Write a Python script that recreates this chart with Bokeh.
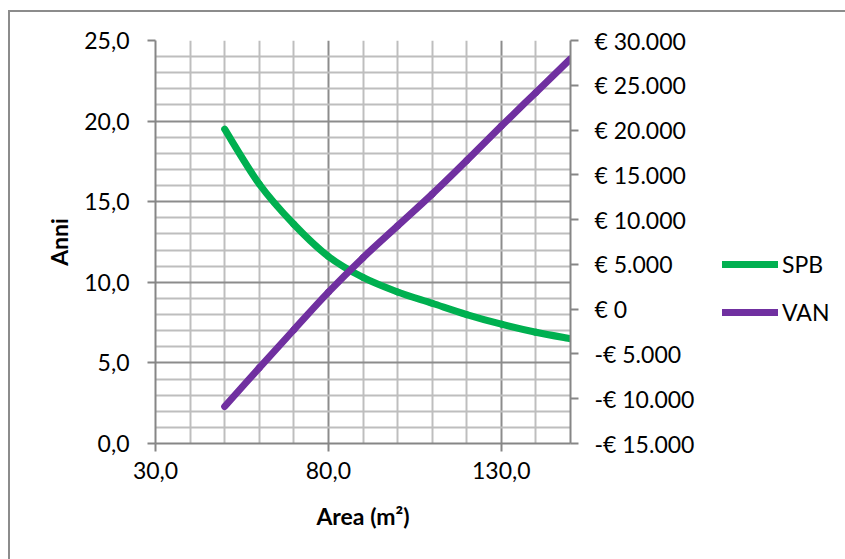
from bokeh.plotting import figure
from bokeh.layouts import row
from bokeh.models import (Range1d, LinearAxis, FixedTicker, Legend, LegendItem,
                          InlineStyleSheet)
from bokeh.embed import file_html
from bokeh.resources import INLINE

# Surface (m2) vs simple payback (years) and NPV (euro)
area = [50, 60, 70, 80, 90, 100, 110, 120, 130, 140, 150]
spb = [19.5, 16.1, 13.6, 11.6, 10.3, 9.4, 8.7, 8.0, 7.4, 6.9, 6.5]
van = [-10870, -6550, -2300, 1900, 5750, 9300, 12850, 16600, 20450, 24200, 27950]

x_ticks = [30, 80, 130]
x_minor = [40, 50, 60, 70, 90, 100, 110, 120, 140, 150]
x_labels = ["30,0", "80,0", "130,0"]

y_ticks = [0, 5, 10, 15, 20, 25]
y_minor = [1, 2, 3, 4, 6, 7, 8, 9, 11, 12, 13, 14, 16, 17, 18, 19, 21, 22, 23, 24]
y_labels = ["0,0", "5,0", "10,0", "15,0", "20,0", "25,0"]

van_ticks = [-15000, -10000, -5000, 0, 5000, 10000, 15000, 20000, 25000, 30000]
van_labels = ["-€ 15.000", "-€ 10.000", "-€ 5.000", "€ 0", "€ 5.000",
              "€ 10.000", "€ 15.000", "€ 20.000", "€ 25.000", "€ 30.000"]

series_names = ["SPB", "VAN"]

FONT = "Lato"
GREEN = "#00B050"
PURPLE = "#7030A0"
AXIS_GREY = "#868686"


def smooth(xs, ys):
    """Cubic Bezier pieces through the points (Catmull-Rom style smoothing)."""
    n = len(xs)
    seg = {k: [] for k in ("x0", "y0", "x1", "y1", "cx0", "cy0", "cx1", "cy1")}
    for i in range(n - 1):
        a = max(i - 1, 0)
        d = min(i + 2, n - 1)
        seg["x0"].append(xs[i]); seg["y0"].append(ys[i])
        seg["x1"].append(xs[i + 1]); seg["y1"].append(ys[i + 1])
        seg["cx0"].append(xs[i] + (xs[i + 1] - xs[a]) / 6)
        seg["cy0"].append(ys[i] + (ys[i + 1] - ys[a]) / 6)
        seg["cx1"].append(xs[i + 1] - (xs[d] - xs[i]) / 6)
        seg["cy1"].append(ys[i + 1] - (ys[d] - ys[i]) / 6)
    return seg


# ---- main chart -----------------------------------------------------------
p = figure(frame_width=415, frame_height=403, output_backend="svg",
           toolbar_location=None,
           x_range=Range1d(30, 150), y_range=Range1d(0, 25),
           min_border_left=155, min_border_right=130,
           min_border_top=40, min_border_bottom=116)
p.outline_line_color = None
p.background_fill_color = "white"
p.border_fill_color = "white"

p.extra_y_ranges = {"van": Range1d(-15000, 30000)}

# grids
p.xgrid.ticker = FixedTicker(ticks=x_ticks, minor_ticks=x_minor)
p.ygrid.ticker = FixedTicker(ticks=y_ticks, minor_ticks=y_minor)
for g in (p.xgrid, p.ygrid):
    g.grid_line_color = "#8C8C8C"
    g.grid_line_width = 2
    g.minor_grid_line_color = "#BEBEBE"
    g.minor_grid_line_width = 2

# bottom axis
xa = p.xaxis[0]
xa.ticker = FixedTicker(ticks=x_ticks)
xa.major_label_overrides = dict(zip(x_ticks, x_labels))
xa.axis_label = "Area (m²)"

# left axis
ya = p.yaxis[0]
ya.ticker = FixedTicker(ticks=y_ticks)
ya.major_label_overrides = dict(zip(y_ticks, y_labels))
ya.axis_label = "Anni"

# right axis (euro)
ra = LinearAxis(y_range_name="van", ticker=FixedTicker(ticks=van_ticks))
ra.major_label_overrides = dict(zip(van_ticks, van_labels))
p.add_layout(ra, "right")

for ax in (xa, ya, ra):
    ax.axis_line_color = AXIS_GREY
    ax.axis_line_width = 2
    ax.major_tick_line_color = AXIS_GREY
    ax.major_tick_line_width = 2
    ax.major_tick_out = 8
    ax.major_tick_in = 0
    ax.minor_tick_out = 0
    ax.minor_tick_in = 0
    ax.major_label_text_font = FONT
    ax.major_label_text_font_size = "23px"
    ax.major_label_text_color = "black"
    ax.axis_label_text_font = FONT
    ax.axis_label_text_font_size = "23px"
    ax.axis_label_text_font_style = "bold"
    ax.axis_label_text_color = "black"

xa.major_label_standoff = 10
xa.axis_label_standoff = 20
ya.major_label_standoff = 18
ya.axis_label_standoff = 8
ra.major_label_standoff = 16

# series
p.bezier(line_color=GREEN, line_width=7, line_cap="round", **smooth(area, spb))
p.bezier(line_color=PURPLE, line_width=7, line_cap="round",
         y_range_name="van", **smooth(area, van))

# ---- legend panel ---------------------------------------------------------
lg = figure(width=145, height=559, output_backend="svg", toolbar_location=None,
            x_range=Range1d(0, 1), y_range=Range1d(0, 1),
            x_axis_location=None, y_axis_location=None,
            min_border=0)
lg.outline_line_color = None
lg.grid.visible = False
lg.border_fill_color = "white"
lg.background_fill_color = "white"

keys = []
for name, color, vals in zip(series_names, (GREEN, PURPLE), (spb, van)):
    # hidden copies of the series, used only as legend keys
    r = lg.line(x=area, y=vals, line_color=color, line_width=7,
                line_cap="round", visible=False)
    keys.append(LegendItem(label=name, renderers=[r]))

lg.add_layout(Legend(items=keys, location=(22, 117), orientation="vertical",
                     border_line_color=None, background_fill_alpha=0,
                     inactive_fill_alpha=0,
                     glyph_width=56, glyph_height=28, label_height=28,
                     spacing=20, padding=0, margin=0, label_standoff=4,
                     label_text_font=FONT, label_text_font_size="23px",
                     label_text_color="black"))

# grey frame line along the top and left of the chart area
frame_css = InlineStyleSheet(css="""
:host { position: relative; }
:host::after {
  content: ""; position: absolute; left: 8px; top: 10px;
  width: 2000px; height: 2000px;
  border-top: 2px solid #8c8c8c; border-left: 2px solid #8c8c8c;
  pointer-events: none; box-sizing: border-box;
}
""")

layout = row(p, lg, spacing=0, stylesheets=[frame_css])

open("out.html", "w").write(file_html(layout, INLINE))
